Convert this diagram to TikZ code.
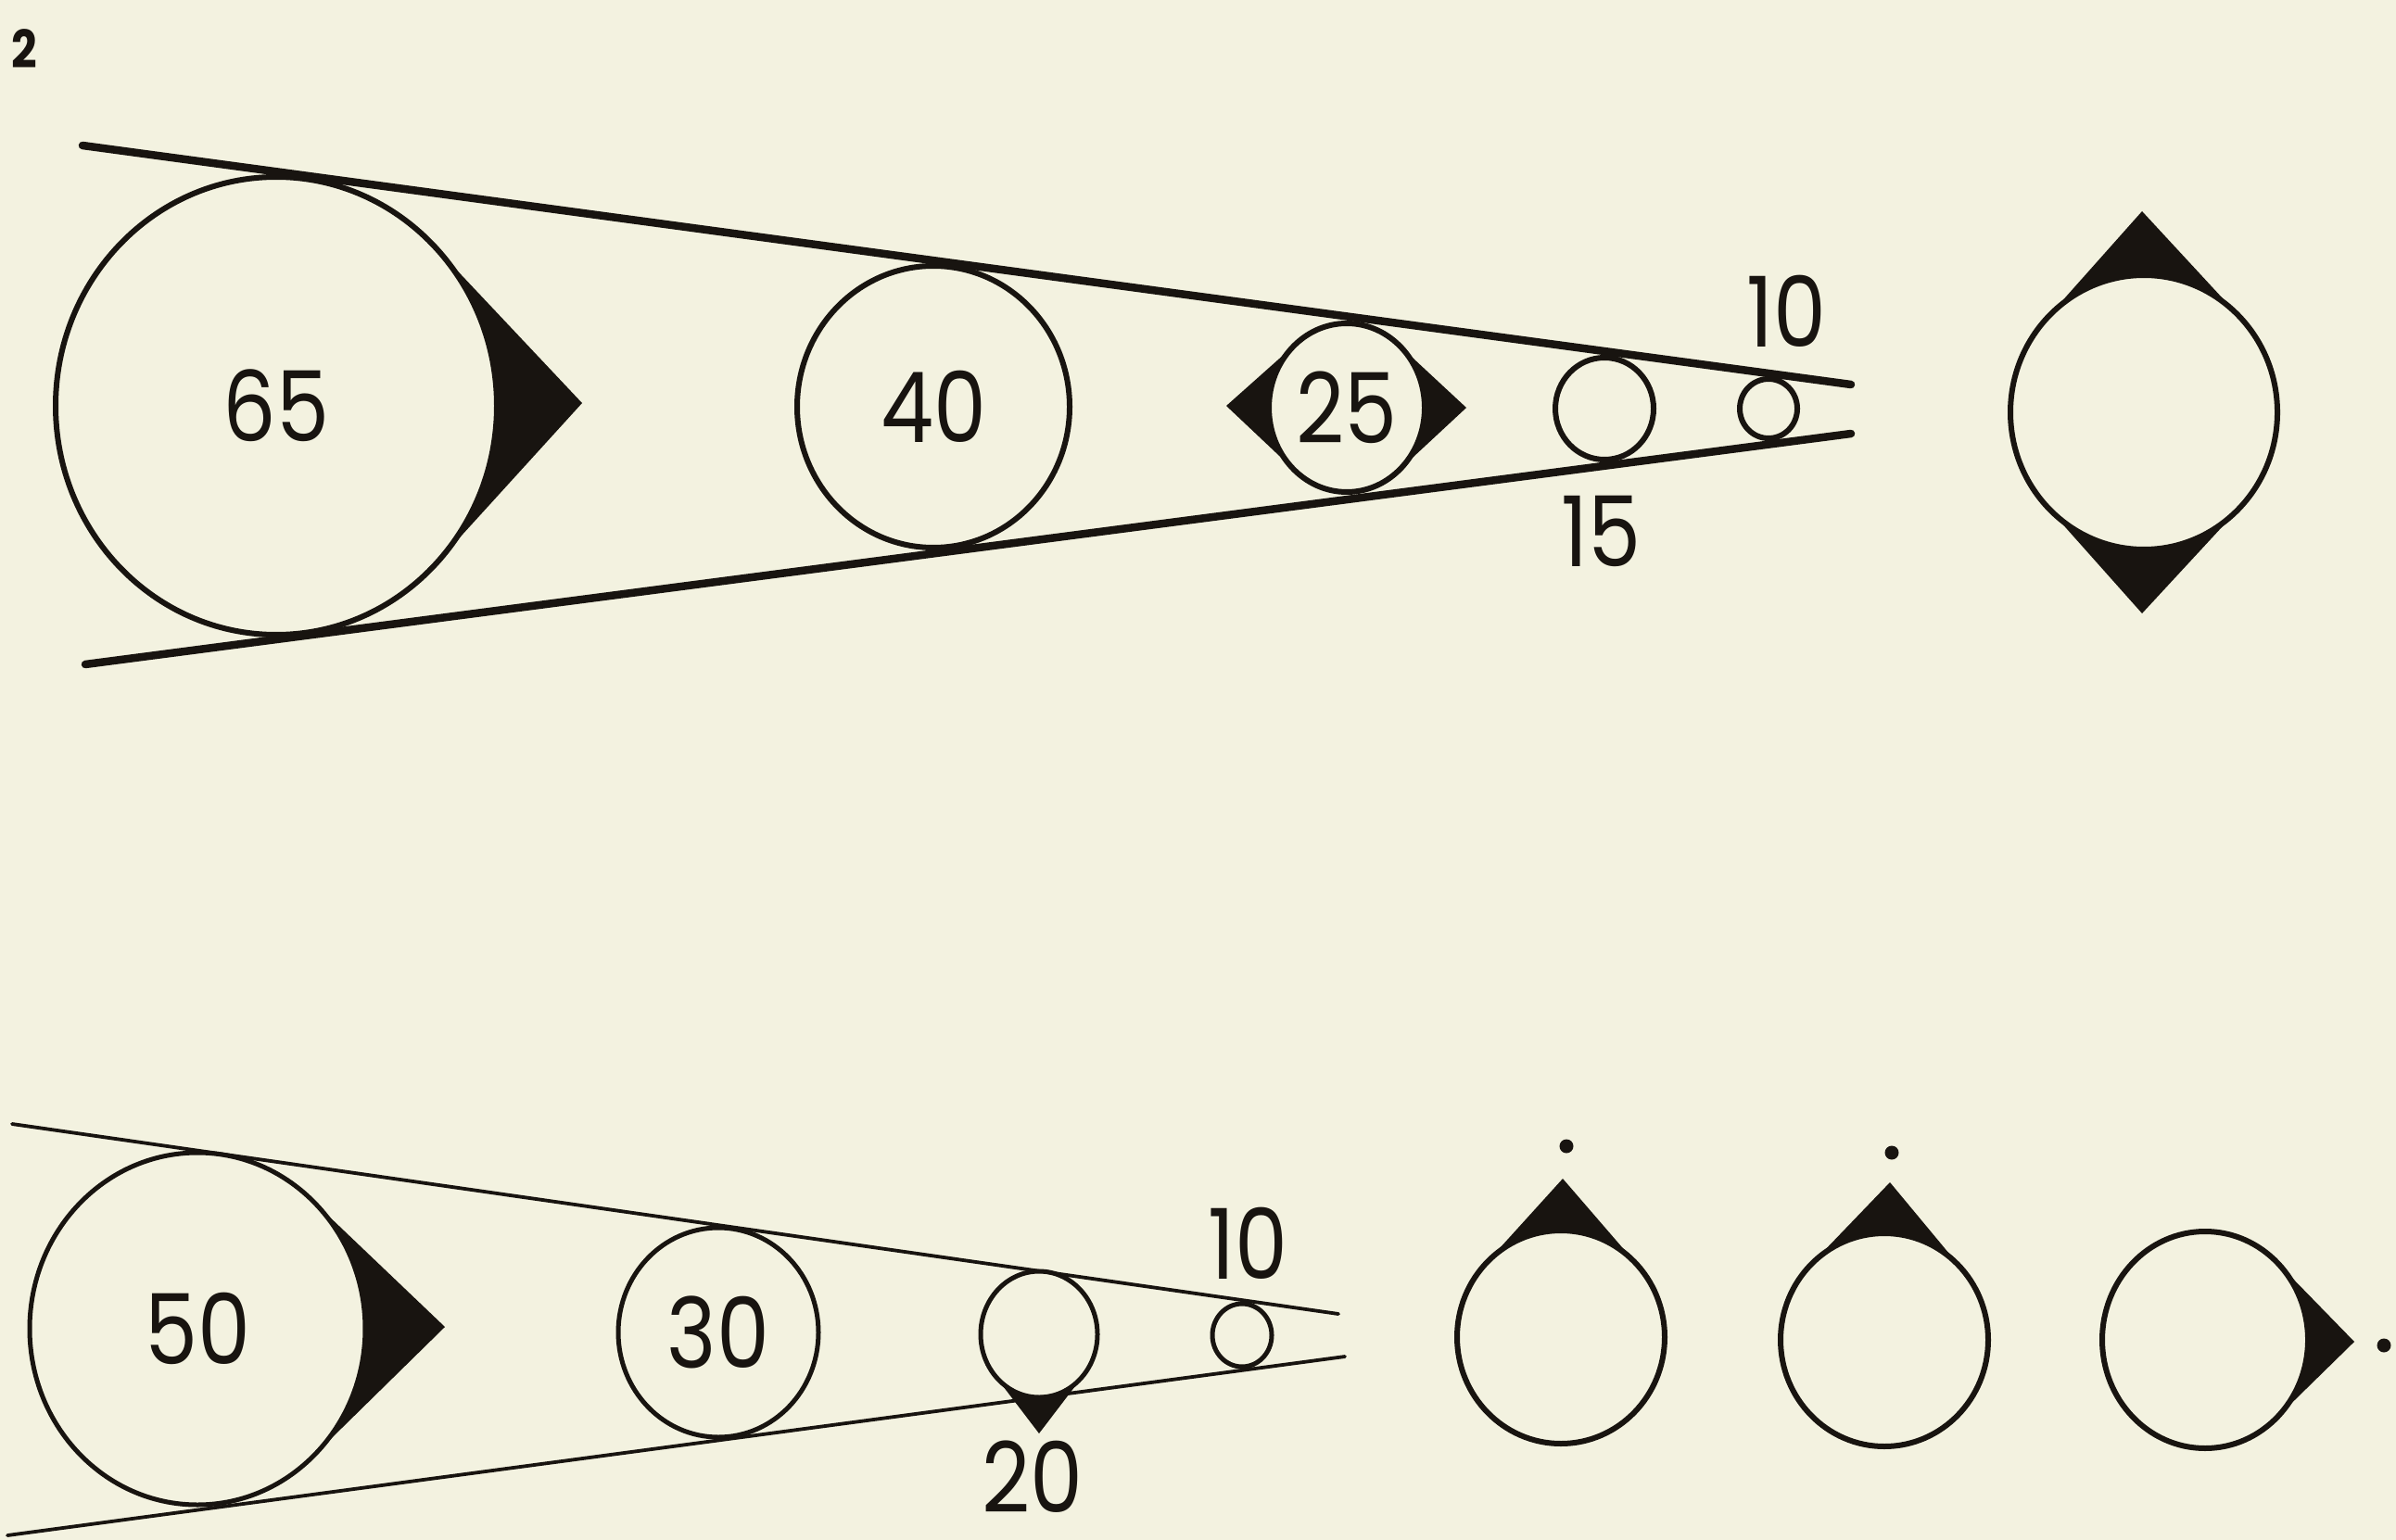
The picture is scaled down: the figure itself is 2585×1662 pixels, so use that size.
\documentclass[tikz,border=0pt]{standalone}
\usepackage{fontspec}
\setmainfont{Poppins}[FakeStretch=0.86]
\usetikzlibrary{shapes.geometric}

\definecolor{paper}{RGB}{243,242,224}
\definecolor{ink}{RGB}{24,20,16}

% black cusp between a ring (cx,cy,rx,ry) and its tip (ax,ay)
\newcommand{\cusp}[6]{%
  \pgfmathsetmacro{\cuX}{#5-#1}%
  \pgfmathsetmacro{\cuY}{(#6-#2)/#4*#3}%
  \pgfmathsetmacro{\cuD}{100*veclen(\cuX/100,\cuY/100)}%
  \pgfmathsetmacro{\cuA}{atan2(\cuY,\cuX)}%
  \pgfmathsetmacro{\cuB}{acos(#3/\cuD)}%
  \fill[ink, shift={(#1,#2)}, yscale=#4/#3] (\cuX,\cuY) -- (\cuA+\cuB:#3)
    arc[start angle=\cuA+\cuB, end angle=\cuA-\cuB, radius=#3] -- cycle;%
}

\begin{document}
\begin{tikzpicture}[x=0.1mm, y=-0.1mm,
    ring/.style 2 args={ellipse, draw=ink, line width=0.6mm, inner sep=0pt,
      minimum width=#1*0.2mm, minimum height=#2*0.2mm, text=ink,
      font=\fontsize{30}{30}\selectfont},
    lab/.style={text=ink, inner sep=0pt, font=\fontsize{30}{30}\selectfont},
    edge/.style={draw=ink, line width=0.85mm, line cap=round},
    thinedge/.style={draw=ink, line width=0.38mm, line cap=round},
    dot/.style={circle, fill=ink, inner sep=0pt, minimum size=1.5mm}]
    % Paper
    \fill[paper] (0,0) rectangle (2585,1662);

    % Figure number
    \node[text=ink, font=\bfseries\fontsize{16}{16}\selectfont] (fig) at (26,53) {2};

    % Upper row - cusps
    \cusp{298}{438}{238}{247}{628}{435}
    \cusp{1453}{440}{84}{91}{1323}{438}
    \cusp{1453}{440}{84}{91}{1582}{440}
    \cusp{2313}{445}{144}{148}{2311}{228}
    \cusp{2313}{445}{144}{148}{2311}{662}

    % Upper row - tangent lines
    \coordinate (ta) at (89,157);
    \coordinate (tb) at (1997,415);
    \coordinate (ba) at (92,717);
    \coordinate (bb) at (1997,468);
    \draw[edge] (ta) -- (tb);
    \draw[edge] (ba) -- (bb);

    % Upper row - rings
    \node[ring={238}{247}] (c65) at (298,438) {65};
    \node[ring={147}{152}] (c40) at (1007,439) {40};
    \node[ring={84}{91}] (c25) at (1453,440) {25};
    \node[ring={53}{55}] (c15) at (1731,441) {};
    \node[ring={31}{32}] (c10) at (1908,441) {};
    \node[ring={144}{148}] (cr) at (2313,445) {};
    \node[lab] (n15) at (1727,573) {15};
    \node[lab] (n10) at (1927,336) {10};

    % Lower row - cusps
    \cusp{213}{1434}{181}{190}{480}{1432}
    \cusp{1121}{1440}{63}{68}{1121}{1547}
    \cusp{1684}{1443}{112}{115}{1686}{1272}
    \cusp{2033}{1446}{112}{115}{2039}{1276}
    \cusp{2379}{1446}{111}{117}{2540}{1448}

    % Lower row - tangent lines
    \coordinate (ua) at (13,1213);
    \coordinate (ub) at (1444,1418);
    \coordinate (la) at (8,1657);
    \coordinate (lb) at (1451,1464);
    \draw[thinedge] (ua) -- (ub);
    \draw[thinedge] (la) -- (lb);

    % Lower row - rings
    \node[ring={181}{190}, line width=0.5mm] (c50) at (213,1434) {50};
    \node[ring={108}{113}, line width=0.5mm] (c30) at (775,1438) {30};
    \node[ring={63}{68}, line width=0.5mm] (c20) at (1121,1440) {};
    \node[ring={32}{34}, line width=0.5mm] (c10b) at (1340,1441) {};
    \node[lab] (n20) at (1114,1594) {20};
    \node[lab] (n10b) at (1346,1342) {10};

    % Single rings with their points
    \node[ring={112}{115}] (ca) at (1684,1443) {};
    \node[ring={112}{115}] (cb) at (2033,1446) {};
    \node[ring={111}{117}] (cc) at (2379,1446) {};
    \node[dot] (da) at (1690,1237) {};
    \node[dot] (db) at (2041,1244) {};
    \node[dot] (dc) at (2572,1452) {};
\end{tikzpicture}
\end{document}
